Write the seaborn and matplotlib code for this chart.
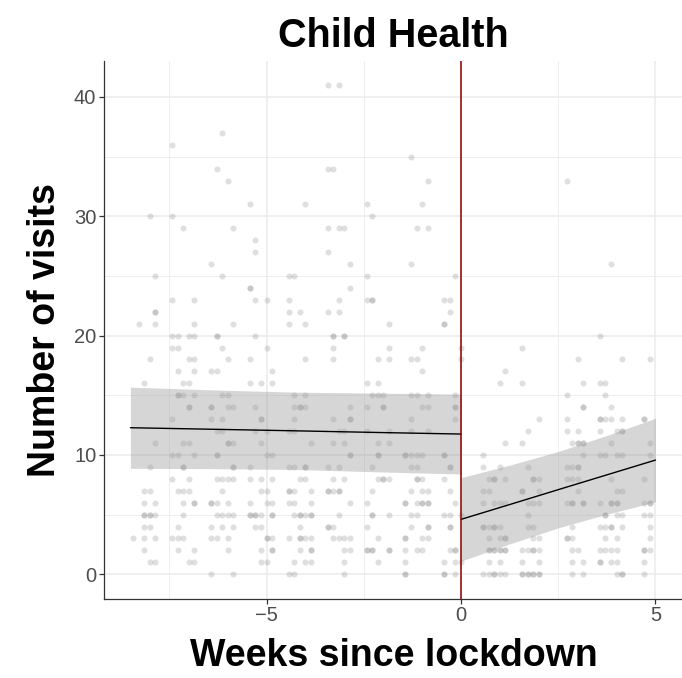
import numpy as np
import pandas as pd
import seaborn as sns
import matplotlib.pyplot as plt

# visits per day: for each count level, the days (relative to lockdown) that hit it
count_levels = [41, 37, 36, 35, 34, 33, 31, 30, 29, 28, 27, 26, 25, 24, 23, 22, 21,
                20, 19, 18, 17, 16, 15, 14, 13, 12, 11, 10, 9, 8, 7, 6, 5, 4, 3, 2, 1, 0]

days_at_level = [
    [-24, -22],
    [-43],
    [-52],
    [-9],
    [-44, -24, -23],
    [-42, -6, 19],
    [-38, -28, -17, -7],
    [-56, -52, -16],
    [-50, -41, -24, -22, -21, -8, -6],
    [-37],
    [-37, -24],
    [-45, -20, -9, 27],
    [-55, -43, -31, -30, -17, -1],
    [-38, -38, -20],
    [-52, -48, -37, -35, -31, -22, -17, -16, -16, -3, -2],
    [-55, -55, -31, -29, -24, -22, -2],
    [-58, -55, -48, -41, -31, -28, -13, -3, -3],
    [-52, -51, -49, -48, -44, -44, -37, -23, -23, -21, -21, 25],
    [-52, -51, -43, -35, -23, -13, -7, 0, 11],
    [-56, -49, -48, -42, -38, -28, -23, -15, -13, -9, -8, 0, 21, 29, 34],
    [-51, -48, -45, -44, -34, -7, 8],
    [-57, -50, -49, -38, -36, -34, -17, -15, 7, 11, 22, 25, 26],
    [-51, -51, -50, -48, -43, -42, -30, -28, -16, -15, -14, -9, -8, -6, -1, 19, 26],
    [-49, -49, -45, -45, -42, -41, -37, -30, -29, -29, -28, -20, -17, -14, -14, -7, -6,
     -1, -1, 22, 22, 27],
    [-52, -45, -43, -36, -36, -30, -23, -20, -20, -9, -1, 14, 19, 25, 25, 26, 27, 29, 33, 33],
    [-44, -43, -37, -35, -31, -30, -22, -21, -17, -13, -9, -6, 12, 19, 21, 25, 28, 29, 29],
    [-55, -50, -49, -42, -42, -41, -36, -27, -23, -21, -15, -13, 8, 11, 20, 21, 21, 22,
     22, 27, 34],
    [-52, -51, -48, -44, -44, -35, -34, -20, -20, -15, -15, -10, -10, -9, -8, -7, -3, -3,
     4, 22, 25, 26, 28, 29, 34],
    [-56, -50, -50, -41, -41, -38, -31, -30, -28, -28, -24, -22, -16, -9, -8, -2, -2,
     4, 7, 12, 19, 20, 21, 21],
    [-52, -49, -44, -43, -42, -41, -38, -36, -34, -29, -28, -23, -21, -15, -14, -14, -13,
     -8, -8, -7, -3, 5, 6, 6, 8, 13, 13, 14, 19, 20, 21, 27, 33],
    [-57, -56, -51, -50, -49, -43, -36, -35, -31, -31, -30, -27, -24, -24, -23, -22, -22,
     -16, -9, -7, -6, -2, 4, 5, 11, 11, 14, 21, 28, 29],
    [-57, -55, -50, -48, -48, -45, -45, -44, -42, -38, -35, -34, -31, -30, -27, -20, -17,
     -10, -10, -8, -7, -7, -6, -6, -1, 4, 6, 7, 8, 12, 13, 14, 19, 20, 20, 22, 22, 25,
     27, 27, 28, 28, 33, 34, 34],
    [-57, -57, -56, -56, -55, -50, -44, -43, -42, -41, -38, -38, -37, -37, -36, -34, -34,
     -30, -29, -29, -28, -27, -27, -22, -16, -16, -13, -9, -8, -3, -2, 0, 12, 26, 26, 28,
     29, 33, 34],
    [-57, -56, -51, -45, -43, -41, -37, -36, -29, -24, -24, -23, -17, -9, -6, -6, -2, -2,
     4, 4, 5, 6, 6, 7, 12, 13, 20, 25, 26, 27, 27, 29, 34],
    [-59, -57, -55, -52, -51, -50, -45, -44, -42, -35, -35, -34, -31, -29, -29, -28, -27,
     -23, -22, -21, -20, -15, -10, -10, -7, -6, 5, 7, 8, 8, 13, 14, 19, 19, 20, 26, 28, 34],
    [-57, -51, -48, -42, -36, -34, -34, -29, -27, -27, -21, -20, -17, -17, -16, -16, -13,
     -13, -10, -8, -7, -2, -1, -1, 5, 5, 6, 6, 7, 7, 8, 8, 11, 12, 13, 13, 14, 20, 21,
     25, 26, 27, 28, 33, 33, 34],
    [-56, -55, -49, -48, -36, -35, -30, -28, -27, -21, -15, -10, -3, -1, 0, 5, 7, 11, 14,
     20, 22, 25, 25, 27, 28, 33],
    [-45, -41, -31, -30, -21, -10, -10, -3, -3, -1, 4, 5, 6, 6, 7, 8, 11, 11, 12, 12, 13,
     13, 14, 14, 20, 22, 28, 29, 29, 33],
]

# fitted segmented trend with its confidence band (weeks since lockdown)
pre_week = [-8.5, -6.375, -4.25, -2.125, 0.0]
pre_fit = [12.28, 12.15, 12.02, 11.88, 11.75]
pre_lo = [8.88, 8.85, 8.78, 8.58, 8.40]
pre_hi = [15.68, 15.45, 15.26, 15.18, 15.10]

post_week = [0.0, 1.25, 2.5, 3.75, 5.0]
post_fit = [4.60, 5.84, 7.09, 8.33, 9.57]
post_lo = [1.10, 2.54, 3.89, 5.03, 6.07]
post_hi = [8.10, 9.14, 10.29, 11.63, 13.07]

rows = [(d / 7, c) for c, ds in zip(count_levels, days_at_level) for d in ds]
df = pd.DataFrame(rows, columns=['week', 'visits'])

sns.set_style('white')
plt.rcParams['font.family'] = ['Liberation Sans', 'DejaVu Sans']

fig = plt.figure(figsize=(6.82, 6.78), dpi=100)
ax = fig.add_axes([104 / 682, 1 - 598.7 / 678, (683.5 - 104) / 682, (598.7 - 60.6) / 678])

sns.scatterplot(data=df, x='week', y='visits', color='#808080', alpha=0.25, s=19,
                linewidth=0, ax=ax, zorder=2)

ax.fill_between(pre_week, pre_lo, pre_hi, color='#999999', alpha=0.4, lw=0, zorder=3)
ax.fill_between(post_week, post_lo, post_hi, color='#999999', alpha=0.4, lw=0, zorder=3)
sns.lineplot(x=pre_week, y=pre_fit, color='black', lw=1.0, ax=ax, zorder=4)
sns.lineplot(x=post_week, y=post_fit, color='black', lw=1.0, ax=ax, zorder=4)
ax.axvline(0, color='#8B0000', lw=1.1, zorder=5)

ax.set_xlim(-9.18, 5.72)
ax.set_ylim(-2.05, 43.05)
ax.set_xticks([-5, 0, 5])
ax.set_xticklabels(['\u22125', '0', '5'])
ax.set_yticks([0, 10, 20, 30, 40])
ax.set_xticks([-7.5, -2.5, 2.5], minor=True)
ax.set_yticks([5, 15, 25, 35], minor=True)
ax.grid(which='major', color='#EBEBEB', lw=1.1, zorder=0)
ax.grid(which='minor', color='#EBEBEB', lw=0.6, zorder=0)
ax.set_axisbelow(True)

for side in ['top', 'right']:
    ax.spines[side].set_visible(False)
for side in ['left', 'bottom']:
    ax.spines[side].set_color('#333333')
    ax.spines[side].set_linewidth(0.9)
ax.tick_params(which='major', length=3.5, width=0.9, color='#333333',
               labelsize=14.5, labelcolor='#4D4D4D', pad=2,
               bottom=True, left=True)
ax.tick_params(which='minor', length=0)

ax.set_title('Child Health', fontsize=28.5, fontweight='bold', color='black', pad=10)
ax.set_xlabel('Weeks since lockdown', fontsize=27, fontweight='bold', color='black',
              labelpad=9)
ax.set_ylabel('Number of visits', fontsize=27, fontweight='bold', color='black',
              labelpad=8)

plt.savefig('out.png', dpi=100)
